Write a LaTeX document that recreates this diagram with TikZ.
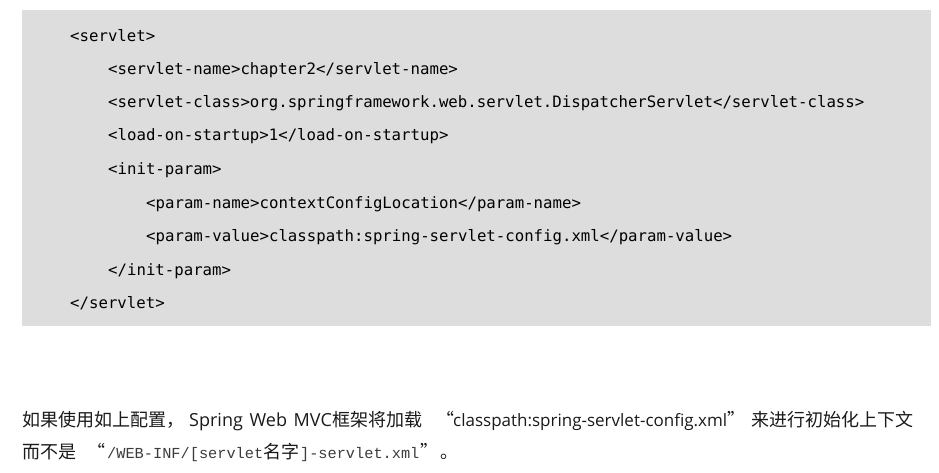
\documentclass[tikz,border=0pt]{standalone}
\usepackage{fontspec}
\newfontfamily\codefont{DejaVu Sans Mono}
\newfontfamily\cjkfont{Noto Sans CJK SC}
\newfontfamily\latinfont{Open Sans}
\newfontfamily\pathfont{Liberation Mono}
\definecolor{codebg}{HTML}{DDDDDD}
\definecolor{textcol}{HTML}{1A1A1A}
\tikzset{
  codeline/.style={anchor=base west, inner sep=0pt, text=black,
    font=\codefont\fontsize{15.7}{18}\selectfont},
  cjkpart/.style={anchor=base west, inner sep=0pt, text=textcol,
    font=\cjkfont\fontsize{18}{20}\selectfont},
  latinpart/.style={anchor=base west, inner sep=0pt, text=textcol,
    font=\latinfont\fontsize{17}{20}\selectfont},
  pathpart/.style={anchor=base west, inner sep=0pt, text=textcol!85,
    font=\pathfont\fontsize{15.3}{18}\selectfont}
}

\begin{document}
\begin{tikzpicture}[x=1pt,y=-1pt]
			%%%%% START %%%%%
			
			\useasboundingbox (0,0) rectangle (939,473);
			\fill[codebg] (22,10) rectangle (931,326);
			
			\node[codeline] (servlet) at (70,42) {<servlet>};
			\node[codeline] (servletname) at (108,75) {<servlet-name>chapter2</servlet-name>};
			\node[codeline] (servletclass) at (108,108) {<servlet-class>org.springframework.web.servlet.DispatcherServlet</servlet-class>};
			\node[codeline] (loadstartup) at (108,141) {<load-on-startup>1</load-on-startup>};
			\node[codeline] (initparam) at (108,175) {<init-param>};
			\node[codeline] (paramname) at (146,208) {<param-name>contextConfigLocation</param-name>};
			\node[codeline] (paramvalue) at (146,241) {<param-value>classpath:spring-servlet-config.xml</param-value>};
			\node[codeline] (initparamend) at (108,275) {</init-param>};
			\node[codeline] (servletend) at (70,308) {</servlet>};
			
			% first line of the remark
			\node[cjkpart] (ifused) at (22,426) {如果使用如上配置，};
			\node[latinpart, font=\latinfont\fontsize{18}{20}\selectfont] (mvcname) at (189,426) {Spring\hspace{2pt} Web\hspace{2pt} MVC};
			\node[cjkpart] (willload) at (mvcname.base east) {框架将加载};
			\node[cjkpart] (openq) at (436,426) {“};
			\node[latinpart] (cfgpath) at (453,426) {classpath:spring-servlet-config.xml};
			\node[cjkpart] (closeq) at (727,426) {”};
			\node[cjkpart] (toinit) at (751,426) {来进行初始化上下文};
			
			% second line of the remark
			\node[cjkpart] (ratherthan) at (22,458) {而不是};
			\node[cjkpart] (openqtwo) at (87,458) {“};
			\node[pathpart] (webinf) at (107,458) {/WEB-INF/[servlet};
			\node[cjkpart] (namechars) at (webinf.base east) {名字};
			\node[pathpart] (suffix) at (namechars.base east) {]-servlet.xml};
			\node[cjkpart] (closeqtwo) at (420,458) {”};
			\node[cjkpart] (fullstop) at (440,458) {。};
			
			%%%%% END %%%%%
\end{tikzpicture}
\end{document}
